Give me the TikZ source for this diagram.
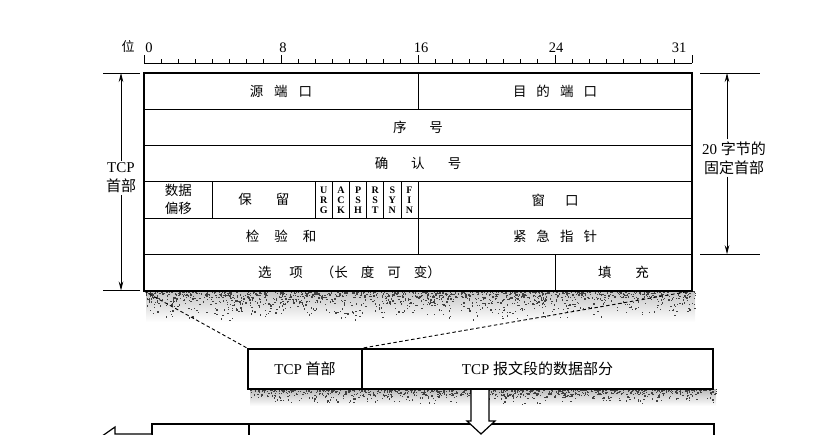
\documentclass[tikz,border=0pt]{standalone}
\usepackage{fontspec}
\setmainfont{Liberation Serif}
\newfontfamily\cjk{Noto Sans CJK SC}
\usetikzlibrary{arrows.meta}
\tikzset{
  cell/.style={draw, line width=0.7pt, inner sep=0pt, minimum height=36.25pt, align=center,
    font=\fontsize{13.5}{18}\selectfont\cjk},
  flagcell/.style={cell, minimum width=17.125pt, font=\fontsize{10}{10}\selectfont\bfseries},
  outer/.style={line width=1.8pt},
  seg/.style={draw, line width=2pt, inner sep=0pt, minimum height=40pt, font=\fontsize{15}{17}\selectfont},
  side/.style={align=center, inner sep=2pt, fill=white, font=\fontsize{15}{19}\selectfont},
  rulelbl/.style={inner sep=0pt, font=\fontsize{14.5}{16}\selectfont},
  dimarrow/.style={line width=0.8pt, -{Stealth[length=9pt,width=4.5pt]}},
  hollow/.style={draw, fill=white, line width=1.2pt, line join=miter},
  speck/.style={fill=black!75},
}
\begin{document}
\begin{tikzpicture}[x=1pt,y=-1pt]
\useasboundingbox (0,0) rectangle (824,435);
\clip (0,0) rectangle (824,435);

% ruler
\draw[line width=0.9pt] (144,63) -- (692,63);
\foreach \n in {0,...,32}{
  \pgfmathsetmacro{\xx}{144+17.125*\n}
  \pgfmathtruncatemacro{\mj}{mod(\n,8)==0 ? 1 : 0}
  \ifnum\mj=1 \draw[line width=0.9pt] (\xx,63) -- (\xx,55); \else \draw[line width=0.8pt] (\xx,63) -- (\xx,59.5); \fi
}
\node[rulelbl, font=\fontsize{13}{14}\selectfont\cjk] (wei) at (128,47) {位};
\node[rulelbl] (r0) at (149,48) {0};
\node[rulelbl] (r8) at (283,48) {8};
\node[rulelbl] (r16) at (421,48) {16};
\node[rulelbl] (r24) at (556,48) {24};
\node[rulelbl] (r31) at (679,48) {31};

% shadow under table
\shade[top color=gray!45, bottom color=white] (146,291.5) rectangle (695,322);
\pgfmathsetseed{7}
\foreach \i in {1,...,1400}{
  \pgfmathsetmacro{\sx}{146+549*rnd}
  \pgfmathsetmacro{\sy}{291+30*rnd*rnd}
  \fill[speck] (\sx,\sy) rectangle ++(1.3,1.3);
}

% table cells
\node[cell, minimum width=274pt] (src) at (281,91.125) {源\hspace{11pt}端\hspace{11pt}口};
\node[cell, minimum width=274pt] (dst) at (555,91.125) {目\hspace{10pt}的\hspace{10pt}端\hspace{10pt}口};
\node[cell, minimum width=548pt] (seq) at (418,127.375) {序\hspace{23pt}号};
\node[cell, minimum width=548pt] (ack) at (418,163.625) {确\hspace{23pt}认\hspace{23pt}号};
\node[cell, minimum width=68.5pt] (off) at (178.25,199.875) {数据\\偏移};
\node[cell, minimum width=102.75pt] (rsv) at (263.875,199.875) {保\hspace{24pt}留};
\node[flagcell] (furg) at (323.8125,199.875) {U\\R\\G};
\node[flagcell] (fack) at (340.9375,199.875) {A\\C\\K};
\node[flagcell] (fpsh) at (358.0625,199.875) {P\\S\\H};
\node[flagcell] (frst) at (375.1875,199.875) {R\\S\\T};
\node[flagcell] (fsyn) at (392.3125,199.875) {S\\Y\\N};
\node[flagcell] (ffin) at (409.4375,199.875) {F\\I\\N};
\node[cell, minimum width=274pt] (win) at (555,199.875) {窗\hspace{20pt}口};
\node[cell, minimum width=274pt] (cks) at (281,236.125) {检\hspace{15pt}验\hspace{15pt}和};
\node[cell, minimum width=274pt] (urg) at (555,236.125) {紧\hspace{10pt}急\hspace{10pt}指\hspace{10pt}针};
\node[cell, minimum width=411pt] (opt) at (349.5,272.375) {选\hspace{18pt}项\hspace{18pt}（长\hspace{13pt}度\hspace{13pt}可\hspace{13pt}变）};
\node[cell, minimum width=137pt] (pad) at (623.5,272.375) {填\hspace{24pt}充};
\draw[outer] (src.north west) rectangle (pad.south east);

% left dimension
\coordinate (lt) at (121,73);
\coordinate (lb) at (121,290.5);
\draw[line width=0.8pt] (103,73) -- (140,73);
\draw[line width=0.8pt] (103,290.5) -- (140,290.5);
\node[side] (tcplbl) at (121,178) {TCP\\{\cjk 首部}};
\draw[dimarrow] (tcplbl.north -| lt) -- (lt);
\draw[dimarrow] (tcplbl.south -| lb) -- (lb);

% right dimension
\coordinate (rt) at (727,73);
\coordinate (rb) at (727,254.25);
\draw[line width=0.8pt] (700,73) -- (760,73);
\draw[line width=0.8pt] (700,254.25) -- (760,254.25);
\node[side] (fixlbl) at (734,158) {20 {\cjk 字节的}\\{\cjk 固定首部}};
\draw[dimarrow] (fixlbl.north -| rt) -- (rt);
\draw[dimarrow] (fixlbl.south -| rb) -- (rb);

% segment shadow
\shade[top color=gray!55, bottom color=white] (250,389) rectangle (716,406);
\foreach \i in {1,...,900}{
  \pgfmathsetmacro{\sx}{250+466*rnd}
  \pgfmathsetmacro{\sy}{389+15*rnd*rnd}
  \fill[speck] (\sx,\sy) rectangle ++(1.3,1.3);
}

% segment
\node[seg, minimum width=114pt] (seghead) at (305,369) {TCP {\cjk 首部}};
\node[seg, minimum width=351pt] (segdata) at (537.5,369) {TCP {\cjk 报文段的数据部分}};
\draw[line width=0.9pt, dash pattern=on 3.5pt off 2.5pt] (opt.south west) -- (seghead.north west);
\draw[line width=0.9pt, dash pattern=on 3.5pt off 2.5pt] (pad.south east) -- (seghead.north east);

% bottom row (cut off)
\node[seg, minimum width=97pt, minimum height=50pt, anchor=north west] (botA) at (151,423) {};
\node[seg, minimum width=465pt, minimum height=50pt, anchor=north west] (botB) at (248,423) {};

% down arrow
\draw[hollow] (segdata.south -| 471,0) -- (471,421) -- (467,421) -- (481,434) -- (495,421) -- (489,421) -- (segdata.south -| 489,0);
% left arrow
\draw[hollow] (botA.west |- 0,434) -- (115,434) -- (115,427) -- (88,446) -- (115,465) -- (115,458) -- (botA.west |- 0,458);
\end{tikzpicture}
\end{document}
